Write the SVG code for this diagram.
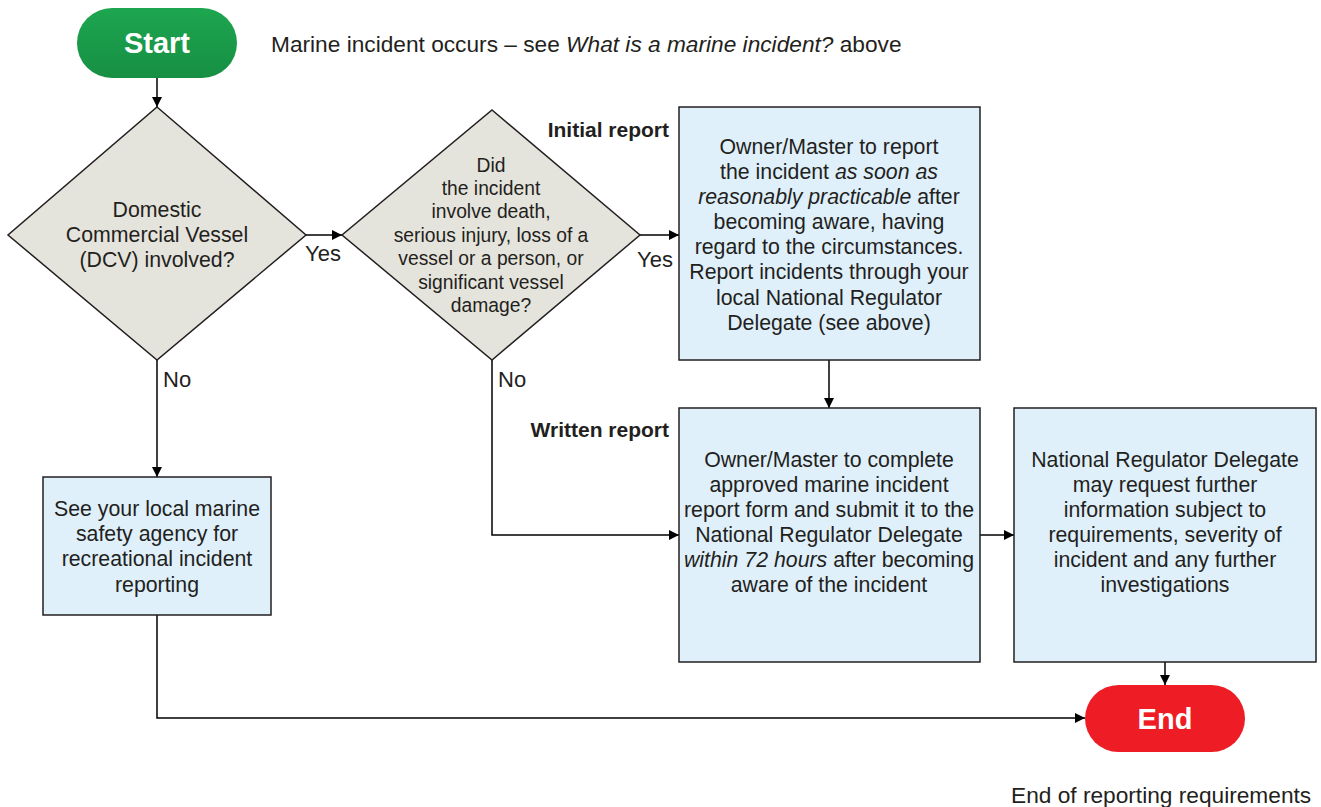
<svg xmlns="http://www.w3.org/2000/svg" width="1321" height="807" viewBox="0 0 1321 807">
<defs>
<marker id="arr" viewBox="0 0 10 10" refX="10" refY="5" markerWidth="10" markerHeight="10" markerUnits="userSpaceOnUse" orient="auto"><path d="M0,0 L10,5 L0,10 z" fill="#000"/></marker>
<linearGradient id="g" x1="0" y1="0" x2="0" y2="1"><stop offset="0" stop-color="#1DA650"/><stop offset="1" stop-color="#178F43"/></linearGradient>
<style>
text{font-family:"Liberation Sans",Arial,sans-serif;font-size:21.3px;fill:#231f20}
.c{text-anchor:middle}
.b{font-weight:bold;font-size:21px}
.r{text-anchor:end}
.s{font-size:19.3px}
.l{font-size:22.7px}
.y{font-size:22px}
.box{fill:#DFF0FB;stroke:#231f20;stroke-width:1.5}
.dia{fill:#E5E4DC;stroke:#231f20;stroke-width:1.5}
.pill{font-size:29px;font-weight:bold;fill:#fff;text-anchor:middle}
.ln{fill:none;stroke:#000;stroke-width:1.5;marker-end:url(#arr)}
</style>
</defs>
<g id="connectors">
<path class="ln" d="M157,78 V107"/>
<path class="ln" d="M306,235 H342"/>
<path class="ln" d="M640,235 H679"/>
<path class="ln" d="M157,360 V477"/>
<path class="ln" d="M492,360 V535 H679"/>
<path class="ln" d="M829,360 V408"/>
<path class="ln" d="M980,535 H1014"/>
<path class="ln" d="M1165,662 V685"/>
<path class="ln" d="M157,615 V718 H1085"/>
<text class="y" x="305" y="261">Yes</text>
<text class="y" x="637" y="267">Yes</text>
<text class="y" x="163" y="387">No</text>
<text class="y" x="498" y="387">No</text>
</g>
<g id="start">
<rect x="77" y="8" width="160" height="70" rx="35" fill="url(#g)"/>
<text class="pill" x="157" y="53">Start</text>
</g>
<text class="l" x="271" y="52">Marine incident occurs – see <tspan font-style="italic">What is a marine incident?</tspan> above</text>
<g id="dcv">
<polygon class="dia" points="157,107 306,235 157,360 8,235"/>
<text class="c" x="157" y="217">Domestic</text>
<text class="c" x="157" y="242">Commercial Vessel</text>
<text class="c" x="157" y="267">(DCV) involved?</text>
</g>
<g id="serious">
<polygon class="dia" points="492,110 640,235 492,360 342,235"/>
<text class="c s" x="491" y="172">Did</text>
<text class="c s" x="491" y="195">the incident</text>
<text class="c s" x="491" y="218">involve death,</text>
<text class="c s" x="491" y="242">serious injury, loss of a</text>
<text class="c s" x="491" y="265">vessel or a person, or</text>
<text class="c s" x="491" y="289">significant vessel</text>
<text class="c s" x="491" y="312">damage?</text>
</g>
<text class="b r" x="669" y="137">Initial report</text>
<text class="b r" x="669" y="437">Written report</text>
<g id="initial">
<rect class="box" x="679" y="107" width="301" height="253"/>
<text class="c" x="829" y="154">Owner/Master to report</text>
<text class="c" x="829" y="179">the incident <tspan font-style="italic">as soon as</tspan></text>
<text class="c" x="829" y="204"><tspan font-style="italic">reasonably practicable</tspan> after</text>
<text class="c" x="829" y="229">becoming aware, having</text>
<text class="c" x="829" y="254">regard to the circumstances.</text>
<text class="c" x="829" y="279">Report incidents through your</text>
<text class="c" x="829" y="305">local National Regulator</text>
<text class="c" x="829" y="330">Delegate (see above)</text>
</g>
<g id="written">
<rect class="box" x="679" y="408" width="301" height="254"/>
<text class="c" x="829" y="467">Owner/Master to complete</text>
<text class="c" x="829" y="492">approved marine incident</text>
<text class="c" x="829" y="517">report form and submit it to the</text>
<text class="c" x="829" y="542">National Regulator Delegate</text>
<text class="c" x="829" y="567"><tspan font-style="italic">within 72 hours</tspan> after becoming</text>
<text class="c" x="829" y="592">aware of the incident</text>
</g>
<g id="nrd">
<rect class="box" x="1014" y="408" width="302" height="254"/>
<text class="c" x="1165" y="467">National Regulator Delegate</text>
<text class="c" x="1165" y="492">may request further</text>
<text class="c" x="1165" y="517">information subject to</text>
<text class="c" x="1165" y="542">requirements, severity of</text>
<text class="c" x="1165" y="567">incident and any further</text>
<text class="c" x="1165" y="592">investigations</text>
</g>
<g id="local">
<rect class="box" x="43" y="477" width="228" height="138"/>
<text class="c" x="157" y="516">See your local marine</text>
<text class="c" x="157" y="541">safety agency for</text>
<text class="c" x="157" y="566">recreational incident</text>
<text class="c" x="157" y="592">reporting</text>
</g>
<g id="end">
<rect x="1085" y="685" width="160" height="67" rx="33.5" fill="#EE1C25"/>
<text class="pill" x="1165" y="729">End</text>
</g>
<text class="l" x="1011" y="803">End of reporting requirements</text>
</svg>
